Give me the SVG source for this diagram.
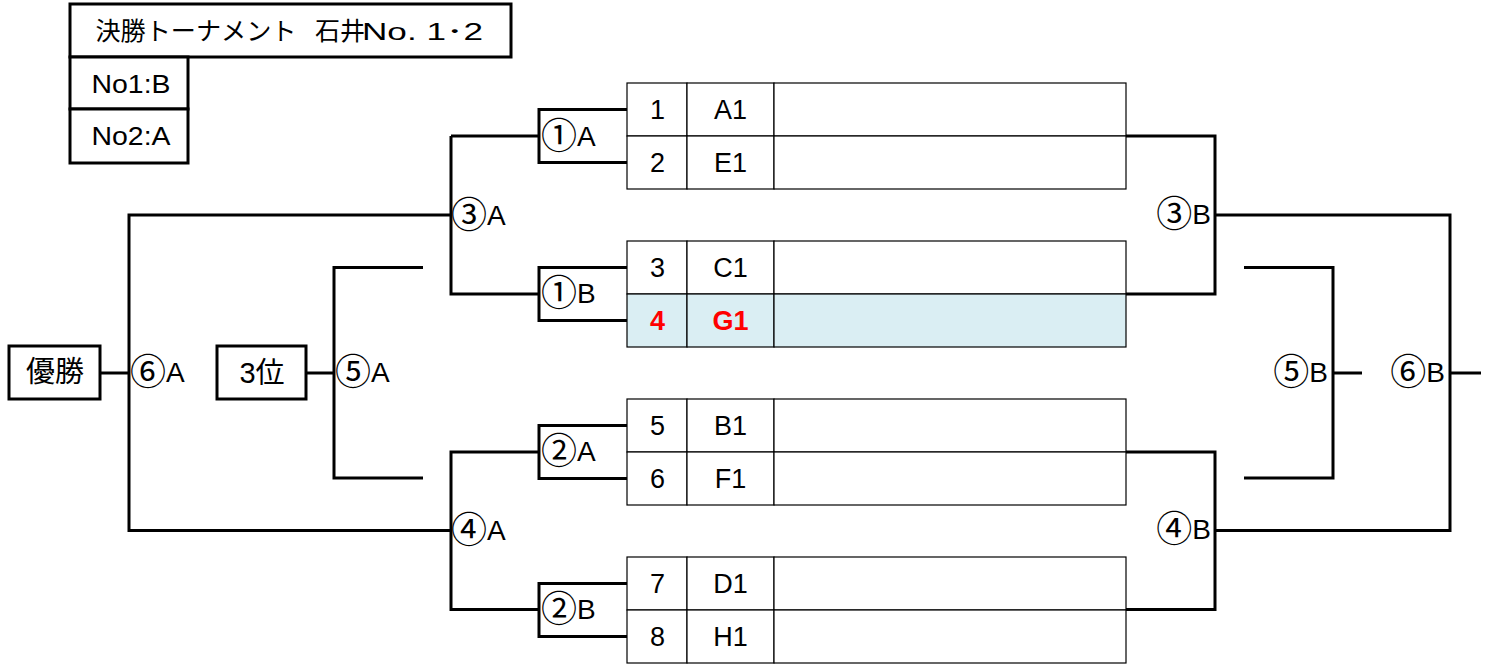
<svg xmlns="http://www.w3.org/2000/svg" width="1487" height="666" viewBox="0 0 1487 666">
<style>
text{font-family:"Liberation Sans","Noto Sans CJK JP",sans-serif;fill:#000}
.t{font-size:27px;text-anchor:middle}
.lbl{font-size:28px}
.c{font-family:"Noto Sans CJK JP",sans-serif;font-size:36px}
.end{text-anchor:end}
.box{fill:#fff;stroke:#000;stroke-width:3}
.cell{fill:#fff;stroke:#000;stroke-width:1.2}
.hl{fill:#DAEEF3}
.red{fill:#FF0000;font-weight:bold}
.ln{fill:none;stroke:#000;stroke-width:3}
</style>
<rect width="1487" height="666" fill="#fff"/>
<g id="title">
<rect class="box" x="70" y="4" width="441" height="53"/>
<text x="95.5" y="40" style="font-size:25px"><tspan textLength="201" lengthAdjust="spacingAndGlyphs">決勝トーナメント</tspan>　<tspan x="315">石井</tspan><tspan x="362" style="font-size:23px" textLength="121" lengthAdjust="spacingAndGlyphs">No. 1･2</tspan></text>
</g>
<g id="no1">
<rect class="box" x="70" y="57" width="118" height="52"/>
<text x="91.5" y="93" style="font-size:25px" textLength="79" lengthAdjust="spacingAndGlyphs">No1:B</text>
</g>
<g id="no2">
<rect class="box" x="70" y="109" width="118" height="54"/>
<text x="91.5" y="145" style="font-size:25px" textLength="79" lengthAdjust="spacingAndGlyphs">No2:A</text>
</g>
<g id="champion">
<rect class="box" x="9" y="346" width="91" height="53"/>
<text x="55" y="382" class="t" style="font-size:29px">優勝</text>
</g>
<g id="third">
<rect class="box" x="217" y="346" width="89" height="53"/>
<text x="262" y="383" class="t" style="font-size:29px">3位</text>
</g>
<g id="team1">
<rect class="cell" x="627" y="83" width="60" height="53"/><rect class="cell" x="687" y="83" width="87" height="53"/><rect class="cell" x="774" y="83" width="352" height="53"/>
<text class="t" x="657.5" y="119">1</text><text class="t" x="730.5" y="119">A1</text>
</g>
<g id="team2">
<rect class="cell" x="627" y="136" width="60" height="53"/><rect class="cell" x="687" y="136" width="87" height="53"/><rect class="cell" x="774" y="136" width="352" height="53"/>
<text class="t" x="657.5" y="172">2</text><text class="t" x="730.5" y="172">E1</text>
</g>
<g id="team3">
<rect class="cell" x="627" y="241" width="60" height="53"/><rect class="cell" x="687" y="241" width="87" height="53"/><rect class="cell" x="774" y="241" width="352" height="53"/>
<text class="t" x="657.5" y="277">3</text><text class="t" x="730.5" y="277">C1</text>
</g>
<g id="team4">
<rect class="cell hl" x="627" y="294" width="60" height="53"/><rect class="cell hl" x="687" y="294" width="87" height="53"/><rect class="cell hl" x="774" y="294" width="352" height="53"/>
<text class="t red" x="657.5" y="330">4</text><text class="t red" x="730.5" y="330">G1</text>
</g>
<g id="team5">
<rect class="cell" x="627" y="399" width="60" height="53"/><rect class="cell" x="687" y="399" width="87" height="53"/><rect class="cell" x="774" y="399" width="352" height="53"/>
<text class="t" x="657.5" y="435">5</text><text class="t" x="730.5" y="435">B1</text>
</g>
<g id="team6">
<rect class="cell" x="627" y="452" width="60" height="53"/><rect class="cell" x="687" y="452" width="87" height="53"/><rect class="cell" x="774" y="452" width="352" height="53"/>
<text class="t" x="657.5" y="488">6</text><text class="t" x="730.5" y="488">F1</text>
</g>
<g id="team7">
<rect class="cell" x="627" y="557" width="60" height="53"/><rect class="cell" x="687" y="557" width="87" height="53"/><rect class="cell" x="774" y="557" width="352" height="53"/>
<text class="t" x="657.5" y="593">7</text><text class="t" x="730.5" y="593">D1</text>
</g>
<g id="team8">
<rect class="cell" x="627" y="610" width="60" height="53"/><rect class="cell" x="687" y="610" width="87" height="53"/><rect class="cell" x="774" y="610" width="352" height="53"/>
<text class="t" x="657.5" y="646">8</text><text class="t" x="730.5" y="646">H1</text>
</g>
<g id="connectors">
<path class="ln" d="M627,109.5H539V162.5H627M539,136H451"/>
<path class="ln" d="M627,267.5H539V320.5H627"/>
<path class="ln" d="M539,294H451V136M451,215H129V530.5H451"/>
<path class="ln" d="M627,425.5H539V478.5H627M539,452H451V609.5H539"/>
<path class="ln" d="M627,583.5H539V636.5H627"/>
<path class="ln" d="M100,373H129"/>
<path class="ln" d="M423,267.5H334V478H423M306,373H334"/>
<path class="ln" d="M1126,136H1215V294H1126M1215,215H1450V530.5H1215"/>
<path class="ln" d="M1126,452H1215V609.5H1126"/>
<path class="ln" d="M1450,373H1481"/>
<path class="ln" d="M1244,267.5H1333V478H1244M1333,373H1362"/>
</g>
<g id="labels">
<text class="lbl" x="541" y="146"><tspan class="c" dy="3">①</tspan><tspan dy="-3">A</tspan></text>
<text class="lbl" x="541" y="303"><tspan class="c" dy="3">①</tspan><tspan dy="-3">B</tspan></text>
<text class="lbl" x="451" y="225"><tspan class="c" dy="3">③</tspan><tspan dy="-3">A</tspan></text>
<text class="lbl" x="541" y="461"><tspan class="c" dy="3">②</tspan><tspan dy="-3">A</tspan></text>
<text class="lbl" x="541" y="619"><tspan class="c" dy="3">②</tspan><tspan dy="-3">B</tspan></text>
<text class="lbl" x="451" y="540"><tspan class="c" dy="3">④</tspan><tspan dy="-3">A</tspan></text>
<text class="lbl" x="130" y="382"><tspan class="c" dy="3">⑥</tspan><tspan dy="-3">A</tspan></text>
<text class="lbl" x="335" y="382"><tspan class="c" dy="3">⑤</tspan><tspan dy="-3">A</tspan></text>
<text class="lbl end" x="1211" y="224"><tspan class="c" dy="3">③</tspan><tspan dy="-3">B</tspan></text>
<text class="lbl end" x="1211" y="539"><tspan class="c" dy="3">④</tspan><tspan dy="-3">B</tspan></text>
<text class="lbl end" x="1328" y="382"><tspan class="c" dy="3">⑤</tspan><tspan dy="-3">B</tspan></text>
<text class="lbl end" x="1445" y="382"><tspan class="c" dy="3">⑥</tspan><tspan dy="-3">B</tspan></text>
</g>
</svg>
